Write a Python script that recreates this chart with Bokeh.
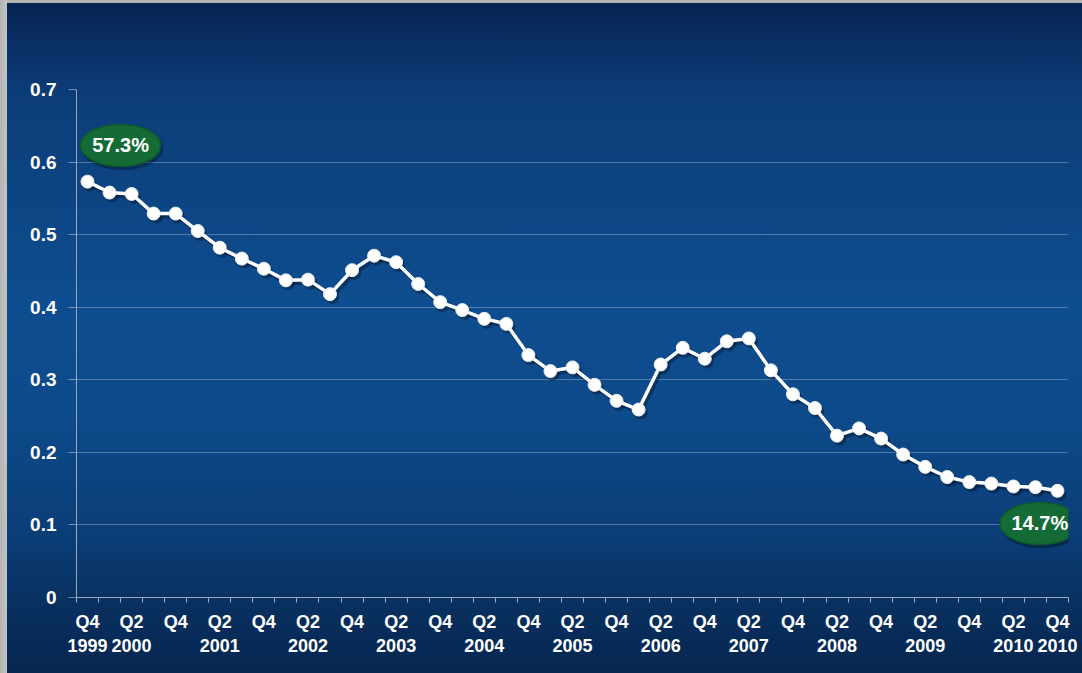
from bokeh.plotting import figure
from bokeh.models import ColumnDataSource, FixedTicker, Range1d
from bokeh.core.properties import value
from bokeh.transform import dodge
from bokeh.embed import file_html
from bokeh.resources import INLINE

# ---- data (quarterly, Q4 1999 .. Q4 2010) ----
quarters = ["Q4 1999"] + [f"Q{q} {y}" for y in range(2000, 2011) for q in (1, 2, 3, 4)]
values = [0.573, 0.558, 0.556, 0.529, 0.529, 0.505, 0.482, 0.467, 0.453, 0.437,
          0.438, 0.418, 0.451, 0.471, 0.462, 0.432, 0.407, 0.396, 0.384, 0.377,
          0.334, 0.312, 0.317, 0.293, 0.271, 0.259, 0.321, 0.344, 0.329, 0.353,
          0.357, 0.313, 0.280, 0.261, 0.223, 0.233, 0.219, 0.197, 0.180, 0.166,
          0.159, 0.157, 0.153, 0.152, 0.147]
tick_labels = ["Q4\n1999", "Q2\n2000", "Q4", "Q2\n2001", "Q4", "Q2\n2002", "Q4",
               "Q2\n2003", "Q4", "Q2\n2004", "Q4", "Q2\n2005", "Q4", "Q2\n2006",
               "Q4", "Q2\n2007", "Q4", "Q2\n2008", "Q4", "Q2\n2009", "Q4",
               "Q2\n2010", "Q4\n2010"]
y_ticks = [0, 0.1, 0.2, 0.3, 0.4, 0.5, 0.6, 0.7]
y_tick_labels = ["0", "0.1", "0.2", "0.3", "0.4", "0.5", "0.6", "0.7"]

idx = list(range(len(values)))
src = ColumnDataSource(dict(x=idx, y=values, q=quarters))

# callout annotations (first and last values)
callout_x = [1.5, 43.2]
callout_y = [0.623, 0.102]
callout_text = [f"{values[0]*100:.1f}%", f"{values[-1]*100:.1f}%"]
csrc = ColumnDataSource(dict(x=callout_x, y=callout_y, t=callout_text))

FONT = "Liberation Sans"

p = figure(width=1082, height=673, output_backend="svg", toolbar_location=None,
           x_range=Range1d(-0.5, len(values) - 0.5), y_range=Range1d(0, 0.7),
           min_border_left=76, min_border_right=14, min_border_top=89,
           min_border_bottom=76)
p.background_fill_alpha = 0
p.border_fill_alpha = 0
p.outline_line_color = None
p.styles = {"background":
            "linear-gradient(to right, #b4b4b4 0px, #c4c4c4 7px, transparent 7px), "
            "linear-gradient(to bottom, #b4b4b4 0px, #b4b4b4 3px, transparent 3px), "
            "linear-gradient(to bottom, #06234f 0%, #0a2e63 6%, "
            "#0c3d78 14%, #0e4d8f 45%, #0d4a8a 62%, #0b3d76 80%, "
            "#08305f 90%, #062650 100%)"}

# grid
p.xgrid.grid_line_color = None
p.ygrid.grid_line_color = "#b8c6dc"
p.ygrid.grid_line_alpha = 0.4
p.ygrid.grid_line_width = 1

# x axis
xt = FixedTicker(ticks=list(range(0, len(values), 2)),
                 minor_ticks=[i - 0.5 for i in range(len(values) + 1)])
p.xaxis.ticker = xt
p.xaxis.major_label_overrides = {i * 2: lab for i, lab in enumerate(tick_labels)}
p.xaxis.axis_line_color = "#9aa9c0"
p.xaxis.major_tick_line_color = None
p.xaxis.major_tick_out = 0
p.xaxis.major_tick_in = 0
p.xaxis.minor_tick_line_color = "#9aa9c0"
p.xaxis.minor_tick_out = 5
p.xaxis.minor_tick_in = 0
p.xaxis.major_label_text_color = "white"
p.xaxis.major_label_text_font = FONT
p.xaxis.major_label_text_font_style = "bold"
p.xaxis.major_label_text_font_size = "18px"
p.xaxis.major_label_standoff = 9

# y axis
p.yaxis.ticker = FixedTicker(ticks=y_ticks, minor_ticks=[])
p.yaxis.major_label_overrides = dict(zip(y_ticks, y_tick_labels))
p.yaxis.axis_line_color = "#9aa9c0"
p.yaxis.major_tick_line_color = "#b8c6dc"
p.yaxis.major_tick_line_alpha = 0.6
p.yaxis.major_tick_out = 8
p.yaxis.major_tick_in = 0
p.yaxis.minor_tick_line_color = None
p.yaxis.major_label_text_color = "white"
p.yaxis.major_label_text_font = FONT
p.yaxis.major_label_text_font_style = "bold"
p.yaxis.major_label_text_font_size = "19px"
p.yaxis.major_label_standoff = 12

# shadow
sx = dodge("x", 0.1)
sy = dodge("y", -0.004)
p.line(sx, sy, source=src, line_color="black", line_alpha=0.3, line_width=4)
p.scatter(sx, sy, source=src, size=14, fill_color="black", fill_alpha=0.3,
          line_color=None)

# main line
p.line("x", "y", source=src, line_color="white", line_width=3.5)
p.scatter("x", "y", source=src, size=13, fill_color="white", line_color="#e8ecf2",
          line_width=1)

# callouts
p.ellipse(dodge("x", 0.08), dodge("y", -0.004), source=csrc, width=82, height=44,
          width_units="screen", height_units="screen",
          fill_color="black", fill_alpha=0.3, line_color=None)
p.ellipse("x", "y", source=csrc, width=80, height=42, width_units="screen",
          height_units="screen", fill_color="#146b36", line_color="#0d5a2b",
          line_width=1.5)
p.text("x", "y", text="t", source=csrc, text_align="center",
       text_baseline="middle", text_color="white", text_font=value(FONT),
       text_font_style="bold", text_font_size="20px")

open("out.html", "w").write(file_html(p, INLINE))
